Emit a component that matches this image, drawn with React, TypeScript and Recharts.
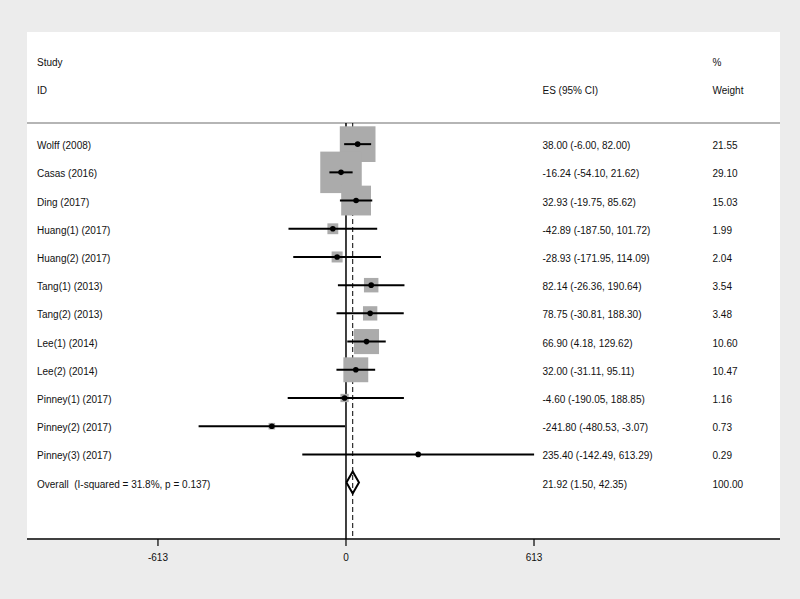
import { ComposedChart, Scatter, XAxis, YAxis, ReferenceLine } from "recharts";

const studies = [
  "Wolff (2008)",
  "Casas (2016)",
  "Ding (2017)",
  "Huang(1) (2017)",
  "Huang(2) (2017)",
  "Tang(1) (2013)",
  "Tang(2) (2013)",
  "Lee(1) (2014)",
  "Lee(2) (2014)",
  "Pinney(1) (2017)",
  "Pinney(2) (2017)",
  "Pinney(3) (2017)",
];
const es = [38.0, -16.24, 32.93, -42.89, -28.93, 82.14, 78.75, 66.9, 32.0, -4.6, -241.8, 235.4];
const lower = [-6.0, -54.1, -19.75, -187.5, -171.95, -26.36, -30.81, 4.18, -31.11, -190.05, -480.53, -142.49];
const upper = [82.0, 21.62, 85.62, 101.72, 114.09, 190.64, 188.3, 129.62, 95.11, 188.85, -3.07, 613.29];
const weights = [21.55, 29.1, 15.03, 1.99, 2.04, 3.54, 3.48, 10.6, 10.47, 1.16, 0.73, 0.29];

const overallLabel = "Overall  (I-squared = 31.8%, p = 0.137)";
const overallEs = 21.92;
const overallLower = 1.5;
const overallUpper = 42.35;
const overallWeight = 100.0;

const xTicks = [-613, 0, 613];

const FONT = '"Liberation Sans", Arial, Helvetica, sans-serif';
const TEXT = "#111";
const BOX = 7.69; // px of box side per sqrt(weight)
const Y_DOMAIN: [number, number] = [-0.75, 14];

const ciText = (e: number, lo: number, hi: number) => `${e.toFixed(2)} (${lo.toFixed(2)}, ${hi.toFixed(2)})`;

const studyRows = studies.map((name, i) => ({
  x: es[i],
  y: i,
  w: weights[i],
  name,
  ci: ciText(es[i], lower[i], upper[i]),
  wt: weights[i].toFixed(2),
}));

// one two-point segment per study for the confidence interval
const ciSegments = studies.map((_, i) => [
  { x: lower[i], y: i },
  { x: upper[i], y: i },
]);

const overallRow = studies.length;
const labelRows = [
  ...studyRows,
  {
    x: overallEs,
    y: overallRow,
    name: overallLabel,
    ci: ciText(overallEs, overallLower, overallUpper),
    wt: overallWeight.toFixed(2),
  },
];

// diamond outline for the pooled estimate
const diamond = [
  { x: overallLower, y: overallRow },
  { x: overallEs, y: overallRow - 0.39 },
  { x: overallUpper, y: overallRow },
  { x: overallEs, y: overallRow + 0.39 },
  { x: overallLower, y: overallRow },
];

// vertical null line and pooled-estimate line, drawn under the boxes
const nullLine = Y_DOMAIN.map((y) => ({ x: 0, y }));
const pooledLine = Y_DOMAIN.map((y) => ({ x: overallEs, y }));

const WeightBox = (props: any) => {
  const { cx, cy, payload } = props;
  const s = BOX * Math.sqrt(payload.w);
  return <rect x={cx - s / 2} y={cy - s / 2} width={s} height={s} fill="#ababab" />;
};

const Dot = (props: any) => <circle cx={props.cx} cy={props.cy} r={2.8} fill="#000" />;

const RowText = (props: any) => {
  const { cy, payload } = props;
  const style = { fontFamily: FONT, fontSize: 10, fill: TEXT, whiteSpace: "pre" as const };
  return (
    <g>
      <text x={37} y={cy + 5} style={style}>{payload.name}</text>
      <text x={542.5} y={cy + 5} style={style}>{payload.ci}</text>
      <text x={712.5} y={cy + 5} style={style}>{payload.wt}</text>
    </g>
  );
};

const Nothing = () => null;

export default function App() {
  const headStyle = { fontFamily: FONT, fontSize: 10, fill: TEXT };
  return (
    <div style={{ position: "absolute", left: 0, top: 0, width: 800, height: 599, background: "#ececec" }}>
      <div style={{ position: "absolute", left: 27, top: 32, width: 753, height: 508, background: "#fff" }} />
      <div style={{ position: "absolute", left: 0, top: 0 }}>
        <ComposedChart width={800} height={599} margin={{ top: 123, right: 20, bottom: 30, left: 27 }}>
          <XAxis
            type="number"
            dataKey="x"
            domain={[-1040, 1415]}
            allowDataOverflow
            ticks={xTicks}
            height={30}
            tickSize={7}
            tickMargin={8}
            axisLine={{ stroke: "#000", strokeWidth: 1.5 }}
            tickLine={{ stroke: "#000", strokeWidth: 1.2 }}
            tick={{ fontFamily: FONT, fontSize: 10, fill: TEXT }}
          />
          <YAxis type="number" dataKey="y" domain={Y_DOMAIN} reversed allowDataOverflow hide width={0} />
          <ReferenceLine y={Y_DOMAIN[0]} stroke="#9c9c9c" strokeWidth={1.5} />
          <Scatter
            data={nullLine}
            line={{ stroke: "#000", strokeWidth: 1.5 }}
            lineJointType="linear"
            shape={Nothing}
            isAnimationActive={false}
          />
          <Scatter
            data={pooledLine}
            line={{ stroke: "#000", strokeWidth: 1, strokeDasharray: "5 3" }}
            lineJointType="linear"
            shape={Nothing}
            isAnimationActive={false}
          />
          <Scatter data={studyRows} shape={WeightBox} isAnimationActive={false} />
          {ciSegments.map((seg, i) => (
            <Scatter
              key={studies[i]}
              data={seg}
              line={{ stroke: "#000", strokeWidth: 2 }}
              lineJointType="linear"
              shape={Nothing}
              isAnimationActive={false}
            />
          ))}
          <Scatter data={studyRows} shape={Dot} isAnimationActive={false} />
          <Scatter
            data={diamond}
            line={{ stroke: "#000", strokeWidth: 2 }}
            lineJointType="linear"
            shape={Nothing}
            isAnimationActive={false}
          />
          <Scatter data={labelRows} shape={RowText} isAnimationActive={false} />
        </ComposedChart>
      </div>
      <svg width={800} height={599} style={{ position: "absolute", left: 0, top: 0, pointerEvents: "none" }}>
        <text x={37} y={65.5} style={headStyle}>Study</text>
        <text x={37} y={93.5} style={headStyle}>ID</text>
        <text x={542.5} y={93.5} style={headStyle}>ES (95% CI)</text>
        <text x={712.5} y={65.5} style={headStyle}>%</text>
        <text x={712.5} y={93.5} style={headStyle}>Weight</text>
      </svg>
    </div>
  );
}
